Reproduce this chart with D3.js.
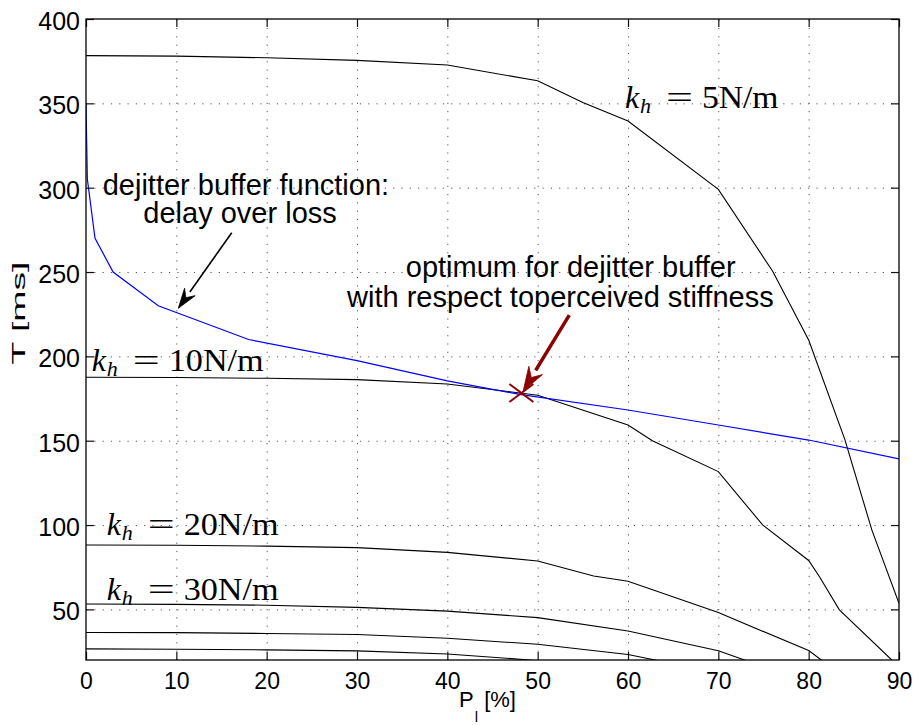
<!DOCTYPE html>
<html>
<head>
<meta charset="utf-8">
<script src="https://cdn.jsdelivr.net/npm/d3@7"></script>
<style>
  body { margin: 0; background: #fff; }
  svg { display: block; }
  text { font-family: "Liberation Sans", Arial, Helvetica, sans-serif; }
</style>
</head>
<body>
<svg id="chart" width="917" height="725"></svg>
<script>
// Axis ticks
const lossTicks = [0, 10, 20, 30, 40, 50, 60, 70, 80, 90];
const delayTicks = [50, 100, 150, 200, 250, 300, 350, 400];

// Dejitter buffer function: delay T [ms] over loss P_l [%]
const bufferLoss  = [0, 0.15, 1, 3, 8, 18, 30, 40, 48, 60, 70, 80, 90];
const bufferDelay = [350, 305, 270, 250, 230, 210, 197.5, 185.5, 177.5, 168.2, 159.3, 150.4, 139.2];

// Iso-stiffness curves for the human operator stiffness k_h
const k5Loss   = [0, 10, 20, 30, 40, 50, 55, 60, 70, 76, 80, 84, 87, 90];
const k5Delay  = [378.3, 378, 377, 375.5, 372.7, 363.4, 350.5, 339.5, 299, 250.6, 209.7, 150.8, 97, 53.6];

const k10Loss  = [0, 10, 20, 30, 40, 50, 60, 62.7, 70, 74.9, 80, 81.2, 83.4, 89.2, 90];
const k10Delay = [187.6, 187.5, 187, 186.2, 183.6, 177, 159.3, 150, 131.7, 100.1, 79, 69.4, 49.7, 20, 16];

const k20Loss  = [0, 10, 20, 30, 40, 50, 56.2, 60, 70, 80, 81.4, 82];
const k20Delay = [88.2, 88, 87.5, 86.6, 83.8, 78.7, 69.8, 66.7, 48.1, 25.6, 20, 17.6];

const k30Loss  = [0, 10, 20, 30, 40, 50, 60, 70, 72.9, 74];
const k30Delay = [53.2, 53, 52.5, 51.2, 49, 45.1, 37.2, 25.5, 20, 17.8];

const k40Loss  = [0, 10, 20, 30, 40, 50, 60, 63, 64];
const k40Delay = [36.3, 36.2, 35.7, 35.1, 32.9, 29.3, 23.3, 20, 19];

const k50Loss  = [0, 10, 20, 30, 40, 49.1, 50];
const k50Delay = [26.6, 26.4, 26, 25.4, 23.6, 20, 19.6];

// Optimum of the dejitter buffer with respect to perceived stiffness
const optimumLoss = [48.2];
const optimumDelay = [178.3];

// Stiffness labels: value in N/m and anchor (loss, delay)
const kLabelValues = ["5", "10", "20", "30"];
const kLabelLoss   = [59.66, 0.63, 2.29, 2.29];
const kLabelDelay  = [347.2, 191.5, 94, 55.6];

const svg = d3.select("#chart");
const plotLeft = 86, plotRight = 899, plotTop = 19, plotBottom = 660;

const x = d3.scaleLinear().domain([0, 90]).range([plotLeft, plotRight]);
const y = d3.scaleLinear().domain([20, 400]).range([plotBottom, plotTop]);

// Dotted grid
const gridStyle = g => g.selectAll("line")
  .attr("stroke", "#555").attr("stroke-width", 1).attr("stroke-dasharray", "1.2,7.1");

svg.append("g")
  .attr("transform", `translate(0,${plotBottom})`)
  .call(d3.axisBottom(x).tickValues(lossTicks.slice(1, -1)).tickSize(-(plotBottom - plotTop)).tickFormat(""))
  .call(g => g.select(".domain").remove())
  .call(gridStyle);

svg.append("g")
  .attr("transform", `translate(${plotLeft},0)`)
  .call(d3.axisLeft(y).tickValues(delayTicks.slice(0, -1)).tickSize(-(plotRight - plotLeft)).tickFormat(""))
  .call(g => g.select(".domain").remove())
  .call(gridStyle);

// Curves, clipped to the plot area
svg.append("clipPath").attr("id", "plotClip")
  .append("rect").attr("x", plotLeft).attr("y", plotTop)
  .attr("width", plotRight - plotLeft).attr("height", plotBottom - plotTop);

const plot = svg.append("g").attr("clip-path", "url(#plotClip)");
const line = d3.line().x(d => x(d[0])).y(d => y(d[1]));
const zip = (a, b) => a.map((v, i) => [v, b[i]]);

const stiffnessCurves = [
  [k5Loss, k5Delay], [k10Loss, k10Delay], [k20Loss, k20Delay],
  [k30Loss, k30Delay], [k40Loss, k40Delay], [k50Loss, k50Delay]
];
stiffnessCurves.forEach(([l, d]) => {
  plot.append("path").attr("d", line(zip(l, d)))
    .attr("fill", "none").attr("stroke", "#000").attr("stroke-width", 1.1);
});

plot.append("path").attr("d", line(zip(bufferLoss, bufferDelay)))
  .attr("fill", "none").attr("stroke", "#0000ff").attr("stroke-width", 1.2);

// Axes frame with inward ticks on all four sides
const frameStyle = g => {
  g.select(".domain").remove();
  g.selectAll(".tick line").attr("stroke", "#111").attr("stroke-width", 1.2);
};

svg.append("g")
  .attr("transform", `translate(0,${plotBottom})`)
  .call(d3.axisBottom(x).tickValues(lossTicks).tickSizeInner(-8).tickSizeOuter(0).tickPadding(13))
  .call(frameStyle)
  .call(g => g.selectAll("text").attr("font-size", 23).attr("fill", "#000"));

svg.append("g")
  .attr("transform", `translate(0,${plotTop})`)
  .call(d3.axisTop(x).tickValues(lossTicks).tickSizeInner(-8).tickSizeOuter(0).tickFormat(""))
  .call(frameStyle);

svg.append("g")
  .attr("transform", `translate(${plotLeft},0)`)
  .call(d3.axisLeft(y).tickValues(delayTicks).tickSizeInner(-8).tickSizeOuter(0).tickPadding(6))
  .call(frameStyle)
  .call(g => g.selectAll("text").attr("font-size", 25).attr("dy", "0.42em").attr("fill", "#000"));

svg.append("g")
  .attr("transform", `translate(${plotRight},0)`)
  .call(d3.axisRight(y).tickValues(delayTicks).tickSizeInner(-8).tickSizeOuter(0).tickFormat(""))
  .call(frameStyle);

svg.append("rect")
  .attr("x", plotLeft).attr("y", plotTop)
  .attr("width", plotRight - plotLeft).attr("height", plotBottom - plotTop)
  .attr("fill", "none").attr("stroke", "#000").attr("stroke-width", 1.3);

// Axis titles
const xt = svg.append("text").attr("x", 459).attr("y", 707).attr("font-size", 22).attr("fill", "#000");
xt.append("tspan").text("P");
xt.append("tspan").attr("font-size", 15).attr("dx", 1).attr("dy", 15).text("l");
xt.append("tspan").attr("dy", -15).text(" [%]");

svg.append("text")
  .attr("transform", "translate(25,313) rotate(-90)")
  .attr("text-anchor", "middle").attr("font-size", 19)
  .attr("textLength", 103).attr("lengthAdjust", "spacingAndGlyphs")
  .attr("fill", "#000")
  .text("T [ms]");

// Stiffness labels  k_h = ...N/m
const serif = "'Liberation Serif', 'Times New Roman', serif";
kLabelValues.forEach((v, i) => {
  const x0 = x(kLabelLoss[i]), y0 = y(kLabelDelay[i]);
  const g = svg.append("g").attr("fill", "#000");
  g.append("text").attr("x", x0).attr("y", y0).attr("font-size", 32)
    .attr("font-style", "italic").style("font-family", serif).text("k");
  g.append("text").attr("x", x0 + 15).attr("y", y0 + 5).attr("font-size", 22)
    .attr("font-style", "italic").style("font-family", serif).text("h");
  g.append("text").attr("x", x0 + 41).attr("y", y0).attr("font-size", 32)
    .attr("textLength", 27).attr("lengthAdjust", "spacingAndGlyphs")
    .style("font-family", serif).text("=");
  g.append("text").attr("x", x0 + 77).attr("y", y0).attr("font-size", 32)
    .attr("textLength", 18.5 * v.length + 58).attr("lengthAdjust", "spacingAndGlyphs")
    .style("font-family", serif).text(v + "N/m");
});

// Two-line annotations
const annSize = 29;
function annotation(lines) {
  const t = svg.append("text").attr("font-size", annSize).attr("fill", "#000");
  lines.forEach(([txt, p, d]) => {
    t.append("tspan").attr("x", x(p)).attr("y", y(d)).text(txt);
  });
}

annotation([
  ["dejitter buffer function:", 1.85, 295.7],
  ["delay over loss", 6.35, 278.9]
]);

annotation([
  ["optimum for dejitter buffer", 35.4, 247.2],
  ["with respect toperceived stiffness", 28.9, 229.4]
]);

// Arrow helper: shaft plus filled head ending at the tip
function arrow(p0, p1, color, width, headLen, headHalf) {
  const x0 = x(p0[0]), y0 = y(p0[1]), x1 = x(p1[0]), y1 = y(p1[1]);
  const a = Math.atan2(y1 - y0, x1 - x0);
  const bx = x1 - headLen * Math.cos(a), by = y1 - headLen * Math.sin(a);
  svg.append("line").attr("x1", x0).attr("y1", y0).attr("x2", bx).attr("y2", by)
    .attr("stroke", color).attr("stroke-width", width);
  const nx = -Math.sin(a) * headHalf, ny = Math.cos(a) * headHalf;
  svg.append("path")
    .attr("d", `M${x1},${y1}L${bx + nx},${by + ny}L${bx + 0.35 * headLen * Math.cos(a)},${by + 0.35 * headLen * Math.sin(a)}L${bx - nx},${by - ny}Z`)
    .attr("fill", color).attr("stroke", color).attr("stroke-width", 0.8);
}

arrow([16.13, 273.3], [10.22, 228.5], "#000", 1.6, 20, 6.5);

// Optimum marker
const ox = x(optimumLoss[0]), oy = y(optimumDelay[0]);
svg.append("path")
  .attr("d", `M${ox - 12},${oy - 9}L${ox + 12},${oy + 9}M${ox - 12},${oy + 9}L${ox + 12},${oy - 9}`)
  .attr("stroke", "#8b0000").attr("stroke-width", 2).attr("fill", "none");

arrow([53.5, 224.5], [48.4, 179.5], "#8b0000", 3.5, 24, 8);
</script>
</body>
</html>
